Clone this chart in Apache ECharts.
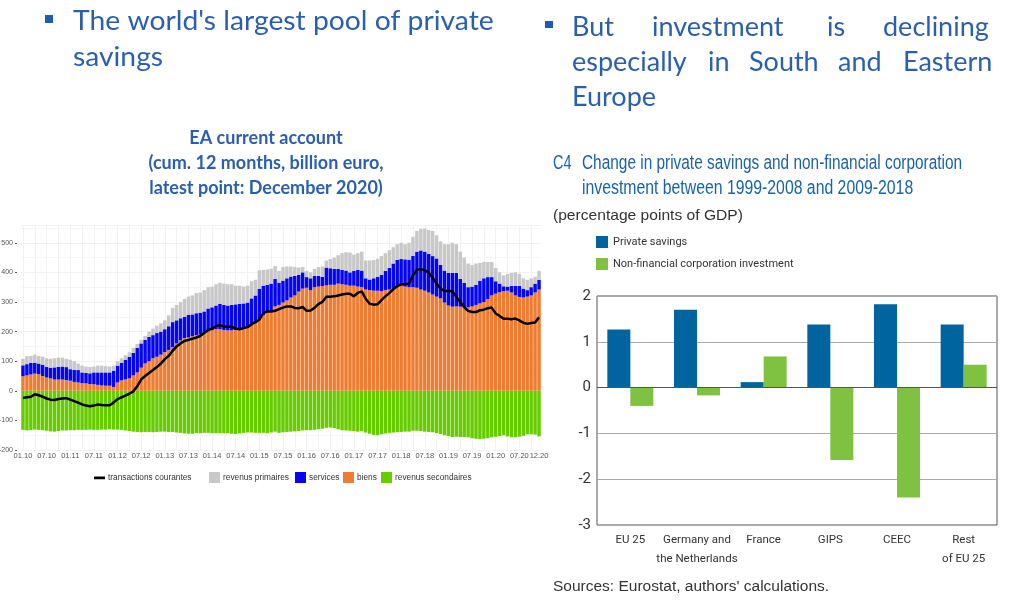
<!DOCTYPE html>
<html>
<head>
<meta charset="utf-8">
<title>EA current account / private savings</title>
<script src="https://cdn.jsdelivr.net/npm/echarts@6/dist/echarts.min.js"></script>
<style>
	html, body { margin: 0; padding: 0; background: #fff; }
	#main { width: 1024px; height: 600px; }
</style>
</head>
<body>
<div id="main"></div>
<script>
// left chart : monthly values 01.10 - 12.20, one row per year
var years = ['10', '11', '12', '13', '14', '15', '16', '17', '18', '19', '20'];
var months = ['01', '02', '03', '04', '05', '06', '07', '08', '09', '10', '11', '12'];

var biens = [
	49, 52, 55, 58, 56, 50, 45, 42, 38, 38, 38, 36,
	34, 30, 28, 26, 25, 23, 22, 20, 18, 17, 17, 13,
	28, 35, 38, 42, 52, 62, 78, 92, 100, 110, 115, 122,
	131, 138, 148, 160, 170, 178, 180, 184, 188, 190, 195, 200,
	205, 208, 208, 205, 204, 204, 205, 205, 208, 212, 220, 228,
	240, 255, 265, 270, 285, 290, 298, 305, 315, 322, 335, 345,
	348, 340, 350, 352, 354, 356, 358, 358, 362, 360, 358, 355,
	355, 352, 350, 342, 340, 338, 338, 336, 340, 342, 345, 352,
	355, 352, 350, 350, 348, 342, 338, 332, 325, 318, 312, 298,
	288, 284, 285, 284, 282, 282, 285, 290, 295, 300, 310, 322,
	328, 333, 336, 338, 332, 322, 317, 315, 318, 322, 332, 342
];
var services = [
	37, 38, 39, 37, 36, 38, 36, 36, 41, 43, 44, 44,
	39, 41, 42, 36, 35, 36, 40, 42, 44, 45, 45, 55,
	57, 60, 67, 73, 76, 83, 82, 80, 82, 78, 80, 78,
	77, 80, 84, 78, 75, 72, 76, 74, 74, 74, 73, 78,
	77, 80, 86, 85, 84, 86, 87, 89, 87, 86, 92, 94,
	105, 100, 93, 92, 93, 75, 74, 75, 71, 66, 57, 55,
	36, 40, 38, 36, 31, 60, 56, 54, 50, 48, 48, 45,
	50, 56, 56, 38, 36, 42, 47, 56, 65, 73, 85, 90,
	90, 92, 93, 106, 122, 132, 132, 130, 130, 129, 113, 108,
	110, 114, 113, 94, 83, 68, 67, 68, 77, 80, 74, 62,
	42, 29, 17, 14, 22, 32, 37, 30, 22, 28, 30, 33
];
var revenusPrimaires = [
	22, 27, 24, 27, 26, 27, 29, 30, 31, 31, 30, 28,
	32, 29, 22, 23, 22, 21, 20, 23, 23, 21, 20, 17,
	15, 15, 15, 15, 17, 13, 12, 13, 18, 22, 25, 28,
	30, 37, 48, 52, 55, 60, 62, 64, 68, 68, 72, 72,
	70, 72, 71, 72, 72, 70, 63, 61, 57, 57, 58, 53,
	62, 53, 52, 50, 43, 40, 46, 40, 34, 30, 24, 18,
	21, 20, 24, 30, 35, 24, 31, 38, 46, 57, 62, 67,
	55, 57, 64, 60, 64, 62, 61, 63, 60, 60, 55, 53,
	55, 51, 57, 64, 70, 73, 78, 81, 85, 78, 80, 89,
	97, 102, 97, 92, 85, 80, 73, 72, 60, 55, 51, 51,
	45, 38, 37, 43, 44, 46, 41, 35, 35, 30, 23, 30
];
var revenusSecondaires = [
	-132, -134, -133, -131, -132, -133, -135, -137, -138, -136, -134, -134,
	-133, -133, -132, -132, -132, -131, -132, -132, -131, -131, -130, -131,
	-131, -132, -134, -136, -138, -139, -140, -139, -139, -140, -139, -138,
	-138, -139, -139, -141, -142, -144, -145, -145, -143, -143, -142, -142,
	-143, -143, -143, -143, -143, -145, -146, -144, -142, -141, -141, -142,
	-142, -142, -143, -141, -138, -142, -140, -139, -138, -137, -136, -134,
	-133, -133, -132, -130, -128, -125, -124, -126, -130, -133, -134, -135,
	-136, -138, -136, -141, -145, -149, -150, -147, -144, -142, -141, -140,
	-139, -138, -138, -135, -135, -136, -138, -139, -140, -143, -146, -150,
	-153, -156, -155, -156, -156, -157, -160, -162, -163, -162, -160, -157,
	-155, -153, -150, -154, -157, -157, -155, -152, -147, -147, -148, -154
];
var transactionsCourantes = [
	-24, -22, -20, -12, -15, -20, -26, -30, -31, -28, -26, -25,
	-30, -35, -40, -46, -50, -52, -50, -46, -48, -49, -49, -40,
	-28, -22, -16, -10, -2, 15, 38, 50, 60, 70, 80, 92,
	107, 118, 135, 150, 160, 168, 172, 176, 180, 185, 195, 205,
	210, 218, 222, 217, 216, 217, 210, 208, 212, 215, 225, 232,
	240, 262, 268, 268, 270, 276, 281, 285, 285, 280, 279, 283,
	270, 271, 280, 293, 300, 318, 318, 319, 322, 325, 328, 328,
	319, 331, 336, 311, 294, 291, 292, 306, 319, 330, 343, 353,
	360, 360, 362, 390, 409, 411, 407, 399, 382, 362, 345, 337,
	337, 336, 317, 300, 283, 270, 266, 266, 272, 274, 279, 281,
	261, 253, 243, 243, 242, 244, 238, 230, 226, 229, 231, 248
];

// right chart
var regions = ['EU 25', 'Germany and\nthe Netherlands', 'France', 'GIPS', 'CEEC', 'Rest\nof EU 25'];
var privateSavings = [1.27, 1.70, 0.12, 1.38, 1.82, 1.38];
var nfcInvestment = [-0.40, -0.17, 0.68, -1.58, -2.40, 0.50];

var monthLabels = [];
years.forEach(function(y) {
	months.forEach(function(m) {
		monthLabels.push(m + '.' + y);
	});
});

// 01 and 07 of every year, and the last month
function showMonth(index) {
	return index % 6 === 0 || index === monthLabels.length - 1;
}

var blueText = '#2a5fb0';
var titleBlue = '#1a62a8';
var sans = '"Liberation Sans", sans-serif';

// sx squeezes the text for the condensed headings of the right chart
function txt(x, y, text, size, color, font, sx) {
	return {
		type: 'text',
		x: x,
		y: y,
		scaleX: sx || 1,
		style: {
			text: text,
			fill: color,
			fontSize: size,
			fontFamily: font,
			textVerticalAlign: 'middle'
		}
	};
}

// the gaps of the left legend are uneven, so every entry is its own legend
function leftLegend(x, name, icon) {
	return {
		left: x,
		top: 472,
		padding: 0,
		itemWidth: 11,
		itemHeight: 11,
		textStyle: { fontFamily: sans, fontSize: 8.3, color: '#333', padding: [0, 0, 0, -2] },
		data: [{ name: name, icon: icon }]
	};
}

var myChart = echarts.init(document.getElementById('main'));
var option = {
	animation: false,
	backgroundColor: '#fff',
	title: {
		text: 'EA current account\n(cum. 12 months, billion euro,\nlatest point: December 2020)',
		left: 261,
		top: 121,
		textAlign: 'center',
		textStyle: {
			color: blueText,
			fontFamily: 'Lato',
			fontWeight: 'bold',
			fontSize: 18,
			lineHeight: 25
		}
	},
	legend: [
		// thin dash inside the full legend box
		leftLegend(94, 'transactions courantes', 'path://M0,0L0.01,0M0,4H10V6.6H0ZM10,10L10,10.01'),
		leftLegend(209, 'revenus primaires', 'rect'),
		leftLegend(295, 'services', 'rect'),
		leftLegend(343, 'biens', 'rect'),
		leftLegend(381, 'revenus secondaires', 'rect'),
		{
			orient: 'vertical',
			left: 596,
			top: 236,
			padding: 0,
			itemWidth: 12,
			itemHeight: 12,
			itemGap: 10,
			textStyle: { fontFamily: 'Roboto', fontSize: 11, color: '#333' },
			data: [
				{ name: 'Private savings', icon: 'rect' },
				{ name: 'Non-financial corporation investment', icon: 'rect' }
			]
		}
	],
	grid: [{
		left: 21,
		top: 225,
		width: 520,
		height: 225,
		outerBoundsMode: 'none'
	}, {
		left: 597,
		top: 296,
		width: 400,
		height: 229,
		outerBoundsMode: 'none',
		show: true,
		borderColor: '#555',
		borderWidth: 1,
		backgroundColor: 'transparent'
	}],
	xAxis: [{
		gridIndex: 0,
		type: 'category',
		data: monthLabels,
		axisLine: { show: false, onZero: false },
		axisTick: { interval: showMonth, alignWithLabel: true, length: 3, lineStyle: { color: '#555' } },
		axisLabel: {
			interval: showMonth,
			hideOverlap: false,
			fontFamily: sans,
			fontSize: 7.5,
			color: '#555',
			margin: 2
		},
		splitLine: {
			show: true,
			alignWithLabel: true,
			interval: function(index) { return index % 3 === 0; },
			lineStyle: { color: '#f1f1f1' }
		}
	}, {
		gridIndex: 1,
		type: 'category',
		data: regions,
		axisLine: { show: false, onZero: false },
		axisTick: { show: false },
		axisLabel: {
			interval: 0,
			fontFamily: 'Roboto',
			fontSize: 11.5,
			lineHeight: 19,
			color: '#333',
			margin: 6
		}
	}],
	yAxis: [{
		gridIndex: 0,
		type: 'value',
		min: -200,
		max: 560,
		interval: 100,
		offset: 4,
		axisLine: { show: false },
		axisTick: { show: true, length: 2, lineStyle: { color: '#555' } },
		axisLabel: {
			fontFamily: sans,
			fontSize: 7,
			color: '#555',
			margin: 4,
			showMaxLabel: false
		},
		splitLine: { lineStyle: { color: '#f1f1f1' } },
		minorTick: { show: false, splitNumber: 2 },
		minorSplitLine: { show: true, lineStyle: { color: '#f6f6f6' } }
	}, {
		gridIndex: 1,
		type: 'value',
		min: -3,
		max: 2,
		interval: 1,
		axisLine: { show: false },
		axisTick: { show: false },
		axisLabel: {
			fontFamily: 'Roboto',
			fontSize: 15,
			color: '#333',
			margin: 6
		},
		splitLine: { lineStyle: { color: '#aaa' } }
	}],
	series: [{
		name: 'biens',
		type: 'bar',
		stack: 'ca',
		barWidth: '88%',
		data: biens,
		itemStyle: { color: '#ee7d31' }
	}, {
		name: 'services',
		type: 'bar',
		stack: 'ca',
		data: services,
		itemStyle: { color: '#0505f0' }
	}, {
		name: 'revenus primaires',
		type: 'bar',
		stack: 'ca',
		data: revenusPrimaires,
		itemStyle: { color: '#c8c8c8' }
	}, {
		name: 'revenus secondaires',
		type: 'bar',
		stack: 'ca',
		data: revenusSecondaires,
		itemStyle: { color: '#66cc00' }
	}, {
		name: 'transactions courantes',
		type: 'line',
		data: transactionsCourantes,
		symbol: 'none',
		z: 5,
		itemStyle: { color: '#000' },
		lineStyle: { color: '#000', width: 2.5 }
	}, {
		name: 'Private savings',
		type: 'bar',
		xAxisIndex: 1,
		yAxisIndex: 1,
		barWidth: 23,
		barGap: 0,
		data: privateSavings,
		itemStyle: { color: '#00659f' }
	}, {
		name: 'Non-financial corporation investment',
		type: 'bar',
		xAxisIndex: 1,
		yAxisIndex: 1,
		barWidth: 23,
		data: nfcInvestment,
		itemStyle: { color: '#7fc241' },
		markLine: {
			silent: true,
			symbol: 'none',
			label: { show: false },
			lineStyle: { color: '#555', type: 'solid', width: 1 },
			data: [{ yAxis: 0 }]
		}
	}],
	graphic: [
		// the two slide headings
		{ type: 'rect', shape: { x: 45, y: 15, width: 8, height: 8 }, style: { fill: '#1f5bb0' } },
		txt(73, 21, "The world's largest pool of private", 27, blueText, 'Lato', 1.047),
		txt(73, 57, 'savings', 27, blueText, 'Lato', 1.047),
		{ type: 'rect', shape: { x: 545, y: 21, width: 8, height: 7 }, style: { fill: '#1f5bb0' } },
		txt(572, 27, 'But', 27, blueText, 'Lato'),
		txt(652, 27, 'investment', 27, blueText, 'Lato'),
		txt(827, 27, 'is', 27, blueText, 'Lato'),
		txt(883, 27, 'declining', 27, blueText, 'Lato'),
		txt(572, 62, 'especially', 27, blueText, 'Lato'),
		txt(708, 62, 'in', 27, blueText, 'Lato'),
		txt(749, 62, 'South', 27, blueText, 'Lato'),
		txt(838, 62, 'and', 27, blueText, 'Lato'),
		txt(903, 62, 'Eastern', 27, blueText, 'Lato'),
		txt(572, 97, 'Europe', 27, blueText, 'Lato'),
		// right chart headings
		txt(553, 163, 'C4', 20, titleBlue, sans, 0.72),
		txt(582, 163, 'Change in private savings and non-financial corporation', 20, titleBlue, sans, 0.77),
		txt(582, 188, 'investment between 1999-2008 and 2009-2018', 20, titleBlue, sans, 0.79),
		txt(553, 216, '(percentage points of GDP)', 15, '#333', sans, 1.04),
		txt(553, 587, "Sources: Eurostat, authors' calculations.", 15.5, '#333', sans)
	]
};
myChart.setOption(option);
</script>
</body>
</html>
